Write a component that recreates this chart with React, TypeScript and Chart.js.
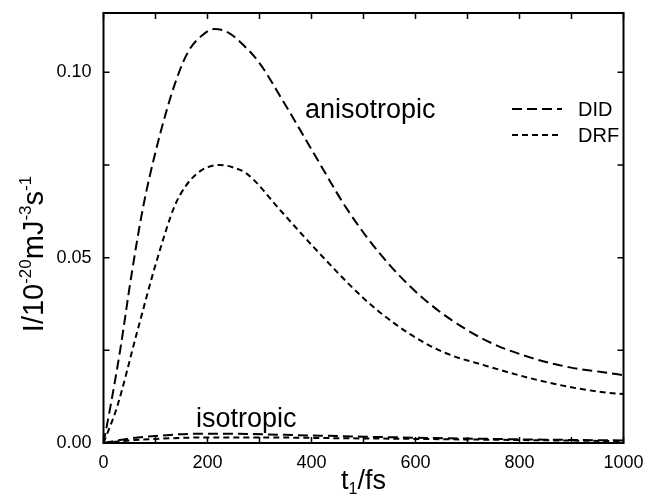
import React, { useEffect, useRef } from "react";
import { Chart, registerables } from "chart.js";

Chart.register(...registerables);

// anisotropic, DID
const DID_ANISO_X = [0, 12, 32, 54, 76, 100, 122, 140, 163, 190, 214, 240, 268, 300, 340, 380, 403, 467, 532, 615, 724, 820, 897, 961, 1000];
const DID_ANISO_Y = [0, 0.0088, 0.025, 0.0455, 0.0635, 0.0785, 0.0900, 0.0980, 0.1056, 0.1100, 0.1117, 0.1107, 0.1075, 0.1025, 0.0935, 0.0840, 0.0785, 0.0634, 0.0510, 0.0390, 0.0285, 0.0231, 0.0204, 0.0191, 0.0183];
// anisotropic, DRF
const DRF_ANISO_X = [0, 26, 64, 102, 137, 158, 179, 200, 223, 248, 276, 340, 403, 499, 560, 628, 670, 724, 820, 897, 961, 1000];
const DRF_ANISO_Y = [0, 0.0097, 0.0296, 0.0490, 0.0640, 0.0693, 0.0726, 0.0744, 0.0750, 0.0744, 0.0726, 0.0628, 0.0530, 0.0392, 0.0322, 0.0262, 0.0236, 0.0213, 0.0175, 0.0151, 0.0137, 0.0132];
// isotropic, DID
const DID_ISO_X = [0, 50, 100, 180, 250, 350, 500, 700, 850, 1000];
const DID_ISO_Y = [0, 0.0012, 0.0019, 0.0025, 0.0025, 0.0022, 0.0017, 0.0012, 0.0009, 0.0007];
// isotropic, DRF
const DRF_ISO_X = [0, 50, 100, 200, 300, 450, 600, 800, 1000];
const DRF_ISO_Y = [0, 0.0007, 0.0011, 0.0015, 0.0015, 0.0013, 0.0011, 0.0008, 0.0005];

const X_MIN = 0;
const X_MAX = 1000;
const Y_MIN = 0;
const Y_MAX = 0.116;
const X_MINOR_TICKS = [0, 100, 200, 300, 400, 500, 600, 700, 800, 900, 1000];
const Y_MINOR_TICKS = [0, 0.025, 0.05, 0.075, 0.1];

const SERIES_NAMES = ["DID", "DRF"];
const DASH_DID = [10, 5];
const DASH_DRF = [6, 4];

const FONT = "'Liberation Sans', Arial, Helvetica, sans-serif";

function pts(xs: number[], ys: number[]) {
  return xs.map((x, i) => ({ x, y: ys[i] }));
}

const decorPlugin = {
  id: "decor",
  afterDraw(chart: any) {
    const ctx: CanvasRenderingContext2D = chart.ctx;
    const { left, right, top, bottom } = chart.chartArea;
    const xs = chart.scales.x;
    const ys = chart.scales.y;
    ctx.save();
    ctx.strokeStyle = "#000";
    ctx.fillStyle = "#000";
    ctx.setLineDash([]);
    // frame
    ctx.lineWidth = 2;
    ctx.strokeRect(left, top, right - left, bottom - top);
    // ticks
    ctx.lineWidth = 1.5;
    const tl = 6;
    X_MINOR_TICKS.forEach((v) => {
      const px = xs.getPixelForValue(v);
      ctx.beginPath();
      ctx.moveTo(px, bottom);
      ctx.lineTo(px, bottom - tl);
      ctx.moveTo(px, top);
      ctx.lineTo(px, top + tl);
      ctx.stroke();
    });
    Y_MINOR_TICKS.forEach((v) => {
      const py = ys.getPixelForValue(v);
      ctx.beginPath();
      ctx.moveTo(left, py);
      ctx.lineTo(left + tl, py);
      ctx.moveTo(right, py);
      ctx.lineTo(right - tl, py);
      ctx.stroke();
    });

    // x title: t_1/fs
    ctx.textBaseline = "alphabetic";
    ctx.textAlign = "left";
    const mainF = `27px ${FONT}`;
    const subF = `16px ${FONT}`;
    ctx.font = mainF;
    const wT = ctx.measureText("t").width;
    const wFs = ctx.measureText("/fs").width;
    ctx.font = subF;
    const w1 = ctx.measureText("1").width;
    const totalX = wT + w1 + wFs;
    let cx = (left + right) / 2 - totalX / 2;
    const by = 489;
    ctx.font = mainF;
    ctx.fillText("t", cx, by);
    cx += wT;
    ctx.font = subF;
    ctx.fillText("1", cx, by + 5);
    cx += w1;
    ctx.font = mainF;
    ctx.fillText("/fs", cx, by);

    // y title: I/10^-20 mJ^-3 s^-1
    const parts: [string, boolean][] = [
      ["I/10", false],
      ["-20", true],
      ["mJ", false],
      ["-3", true],
      ["s", false],
      ["-1", true],
    ];
    const yMainF = `29px ${FONT}`;
    const ySupF = `17px ${FONT}`;
    let totalY = 0;
    const widths = parts.map(([t, sup]) => {
      ctx.font = sup ? ySupF : yMainF;
      const w = ctx.measureText(t).width;
      totalY += w;
      return w;
    });
    ctx.save();
    ctx.translate(43, 254 + totalY / 2);
    ctx.rotate(-Math.PI / 2);
    let ox = 0;
    parts.forEach(([t, sup], i) => {
      ctx.font = sup ? ySupF : yMainF;
      ctx.fillText(t, ox, sup ? -12 : 0);
      ox += widths[i];
    });
    ctx.restore();

    // annotations
    ctx.font = `27px ${FONT}`;
    ctx.fillText("anisotropic", 305, 118);
    ctx.fillText("isotropic", 196, 427);

    // legend
    ctx.font = `20px ${FONT}`;
    ctx.textBaseline = "middle";
    const legendY = [109, 135];
    const dashes = [DASH_DID, DASH_DRF];
    SERIES_NAMES.forEach((name, i) => {
      ctx.lineWidth = 2;
      ctx.setLineDash(dashes[i]);
      ctx.beginPath();
      ctx.moveTo(512, legendY[i]);
      ctx.lineTo(562, legendY[i]);
      ctx.stroke();
      ctx.setLineDash([]);
      ctx.fillText(name, 578, legendY[i] + 1);
    });
    ctx.restore();
  },
};

export default function App() {
  const ref = useRef<HTMLCanvasElement | null>(null);
  useEffect(() => {
    if (!ref.current) return;
    const common = {
      borderColor: "#000",
      borderWidth: 2,
      pointRadius: 0,
      fill: false,
      cubicInterpolationMode: "monotone" as const,
    };
    const chart = new Chart(ref.current, {
      type: "line",
      data: {
        datasets: [
          { ...common, label: SERIES_NAMES[0], data: pts(DID_ANISO_X, DID_ANISO_Y), borderDash: DASH_DID },
          { ...common, label: SERIES_NAMES[1], data: pts(DRF_ANISO_X, DRF_ANISO_Y), borderDash: DASH_DRF },
          { ...common, label: SERIES_NAMES[0] + " iso", data: pts(DID_ISO_X, DID_ISO_Y), borderDash: DASH_DID },
          { ...common, label: SERIES_NAMES[1] + " iso", data: pts(DRF_ISO_X, DRF_ISO_Y), borderDash: DASH_DRF },
        ],
      },
      options: {
        animation: false,
        responsive: false,
        maintainAspectRatio: false,
        layout: { padding: { top: 13, right: 21.5, left: 0, bottom: 0 } },
        plugins: { legend: { display: false }, tooltip: { enabled: false } },
        scales: {
          x: {
            type: "linear",
            min: X_MIN,
            max: X_MAX,
            grid: { display: false, drawTicks: false },
            border: { display: false },
            ticks: {
              stepSize: 100,
              autoSkip: false,
              maxRotation: 0,
              padding: 9,
              color: "#000",
              font: { family: FONT, size: 18 },
              callback: (v: any) => (Math.round(v) % 200 === 0 ? String(v) : ""),
            },
            afterFit: (s: any) => {
              s.height = 52;
              s.paddingLeft = 0;
              s.paddingRight = 0;
            },
          },
          y: {
            type: "linear",
            min: Y_MIN,
            max: Y_MAX,
            grid: { display: false, drawTicks: false },
            border: { display: false },
            ticks: {
              stepSize: 0.025,
              autoSkip: false,
              padding: 12,
              color: "#000",
              font: { family: FONT, size: 18 },
              callback: (v: any) => {
                const k = v / 0.05;
                return Math.abs(k - Math.round(k)) < 1e-6 ? Number(v).toFixed(2) : "";
              },
            },
            afterFit: (s: any) => {
              s.width = 103.5;
              s.paddingTop = 0;
              s.paddingBottom = 0;
            },
          },
        },
      },
      plugins: [decorPlugin],
    });
    return () => chart.destroy();
  }, []);
  return (
    <div style={{ position: "fixed", left: 0, top: 0, width: 645, height: 495, background: "#fff" }}>
      <canvas ref={ref} width={645} height={495} style={{ display: "block" }} />
    </div>
  );
}
